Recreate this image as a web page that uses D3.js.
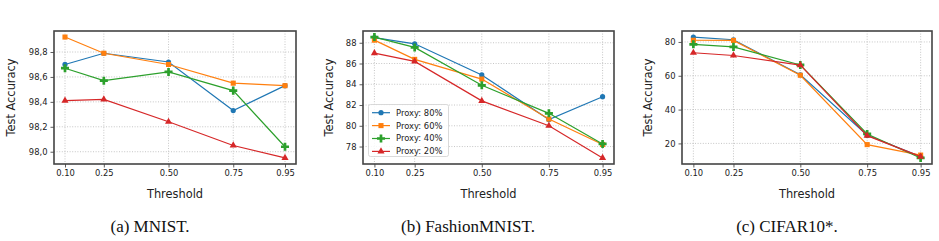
<!DOCTYPE html>
<html lang="en">
  <head>
    <meta charset="UTF-8" />
    <title>Threshold vs Test Accuracy</title>
    <style>
      body { margin: 0; background: #fff; }
      .tick text { font-family: "DejaVu Sans", sans-serif; font-size: 8.4px; fill: #222; }
      .label { font-family: "DejaVu Sans", sans-serif; font-size: 11.4px; fill: #222; }
      .caption { font-family: "Liberation Serif", "Times New Roman", serif; font-size: 17px; fill: #111; }
      .legend text { font-family: "DejaVu Sans", sans-serif; font-size: 8.4px; fill: #222; }
      .line { fill: none; stroke-width: 1.2; }
      .grid line { stroke: #b8b8b8; stroke-width: 0.8; stroke-dasharray: 1, 1.6; }
    </style>
  </head>
  <body>
    <svg id="chart" width="939" height="241"></svg>
  </body>
  <script src="https://cdn.jsdelivr.net/npm/d3@7"></script>
  <script>
    // thresholds on the x axis and their tick labels
    let thresholds = [0.1, 0.25, 0.5, 0.75, 0.95];
    let xTickLabels = ["0.10", "0.25", "0.50", "0.75", "0.95"];

    let seriesNames = ["Proxy: 80%", "Proxy: 60%", "Proxy: 40%", "Proxy: 20%"];
    let colors = ["#1f77b4", "#ff7f0e", "#2ca02c", "#d62728"];

    // MNIST
    let mnist80 = [98.70, 98.79, 98.72, 98.33, 98.53];
    let mnist60 = [98.92, 98.79, 98.70, 98.55, 98.53];
    let mnist40 = [98.67, 98.57, 98.64, 98.49, 98.04];
    let mnist20 = [98.41, 98.42, 98.24, 98.05, 97.95];
    let mnistTicks = [98.0, 98.2, 98.4, 98.6, 98.8];

    // FashionMNIST
    let fashion80 = [88.5, 87.9, 84.9, 80.6, 82.8];
    let fashion60 = [88.25, 86.4, 84.5, 80.65, 78.2];
    let fashion40 = [88.55, 87.55, 83.9, 81.2, 78.25];
    let fashion20 = [87.0, 86.2, 82.4, 80.0, 76.9];
    let fashionTicks = [78, 80, 82, 84, 86, 88];

    // CIFAR10*
    let cifar80 = [82.9, 81.3, 60.6, 24.8, 12.3];
    let cifar60 = [81.0, 80.9, 60.3, 19.3, 13.1];
    let cifar40 = [78.6, 77.1, 66.4, 25.6, 11.4];
    let cifar20 = [73.6, 72.0, 66.3, 24.6, 12.2];
    let cifarTicks = [20, 40, 60, 80];

    let svg = d3.select("#chart");

    let panels = [
      { left: 54, right: 296, series: [mnist80, mnist60, mnist40, mnist20], ticks: mnistTicks,
        fmt: (d) => d.toFixed(1).replace(".", ","), labelX: 11, caption: "(a) MNIST.", capX: 150, legend: false },
      { left: 363, right: 614, series: [fashion80, fashion60, fashion40, fashion20], ticks: fashionTicks,
        fmt: (d) => d, labelX: 329, caption: "(b) FashionMNIST.", capX: 468, legend: true },
      { left: 682, right: 932, series: [cifar80, cifar60, cifar40, cifar20], ticks: cifarTicks,
        fmt: (d) => d, labelX: 648, caption: "(c) CIFAR10*.", capX: 787, legend: false },
    ];

    let plotTop = 31, plotBottom = 164;

    function marker(g, i, x, y, color) {
      if (i === 0) {
        g.append("circle").attr("cx", x).attr("cy", y).attr("r", 2.6).attr("fill", color);
      } else {
        let type = [null, d3.symbolSquare, d3.symbolCross, d3.symbolTriangle][i];
        let size = [0, 26, 36, 22][i];
        g.append("path")
          .attr("d", d3.symbol().type(type).size(size)())
          .attr("transform", "translate(" + x + "," + y + ")")
          .attr("fill", color);
      }
    }

    panels.forEach((p) => {
      let g = svg.append("g");

      // 5% margins like matplotlib
      let xPad = (0.95 - 0.1) * 0.05;
      let xScale = d3.scaleLinear().domain([0.1 - xPad, 0.95 + xPad]).range([p.left, p.right]);
      let all = p.series.flat();
      let lo = d3.min(all), hi = d3.max(all), yPad = (hi - lo) * 0.05;
      let yScale = d3.scaleLinear().domain([lo - yPad, hi + yPad]).range([plotBottom, plotTop]);

      // grid
      let grid = g.append("g").attr("class", "grid");
      grid.selectAll(".gx").data(thresholds).join("line")
        .attr("class", "gx")
        .attr("x1", (d) => xScale(d)).attr("x2", (d) => xScale(d))
        .attr("y1", plotTop).attr("y2", plotBottom);
      grid.selectAll(".gy").data(p.ticks).join("line")
        .attr("class", "gy")
        .attr("x1", p.left).attr("x2", p.right)
        .attr("y1", (d) => yScale(d)).attr("y2", (d) => yScale(d));

      // axes
      let xAxis = g.append("g")
        .attr("transform", "translate(0," + plotBottom + ")")
        .call(d3.axisBottom(xScale).tickValues(thresholds)
          .tickFormat((d, i) => xTickLabels[i]).tickSize(3.5).tickPadding(3));
      let yAxis = g.append("g")
        .attr("transform", "translate(" + p.left + ",0)")
        .call(d3.axisLeft(yScale).tickValues(p.ticks).tickFormat(p.fmt).tickSize(3.5).tickPadding(3));
      [xAxis, yAxis].forEach((a) => {
        a.select(".domain").remove();
        a.selectAll(".tick line").attr("stroke", "#333").attr("stroke-width", 0.8);
      });

      // lines + markers
      p.series.forEach((vals, i) => {
        let pts = thresholds.map((t, j) => ({ t: t, v: vals[j] }));
        let line = d3.line().x((d) => xScale(d.t)).y((d) => yScale(d.v));
        g.append("path").datum(pts).attr("class", "line").attr("d", line).attr("stroke", colors[i]);
        pts.forEach((d) => marker(g, i, xScale(d.t), yScale(d.v), colors[i]));
      });

      // frame
      g.append("rect")
        .attr("x", p.left).attr("y", plotTop)
        .attr("width", p.right - p.left).attr("height", plotBottom - plotTop)
        .attr("fill", "none").attr("stroke", "#444").attr("stroke-width", 1.6);

      // labels
      g.append("text").attr("class", "label")
        .attr("x", (p.left + p.right) / 2).attr("y", 198)
        .attr("text-anchor", "middle").text("Threshold");
      g.append("text").attr("class", "label")
        .attr("transform", "translate(" + p.labelX + "," + (plotTop + plotBottom) / 2 + ") rotate(-90)")
        .attr("text-anchor", "middle").attr("dy", "0.35em").text("Test Accuracy");
      g.append("text").attr("class", "caption")
        .attr("x", p.capX).attr("y", 232)
        .attr("text-anchor", "middle").text(p.caption);

      if (p.legend) {
        let lg = g.append("g").attr("class", "legend");
        lg.append("rect")
          .attr("x", 368.5).attr("y", 104.5).attr("width", 80).attr("height", 52).attr("rx", 2)
          .attr("fill", "#fff").attr("fill-opacity", 0.85)
          .attr("stroke", "#d0d0d0").attr("stroke-width", 0.8);
        seriesNames.forEach((name, i) => {
          let y = 112.7 + i * 12.9;
          lg.append("line").attr("x1", 372).attr("x2", 390).attr("y1", y).attr("y2", y)
            .attr("stroke", colors[i]).attr("stroke-width", 1.2);
          marker(lg, i, 381, y, colors[i]);
          lg.append("text").attr("x", 396).attr("y", y).attr("dy", "0.35em").text(name);
        });
      }
    });
  </script>
</html>
